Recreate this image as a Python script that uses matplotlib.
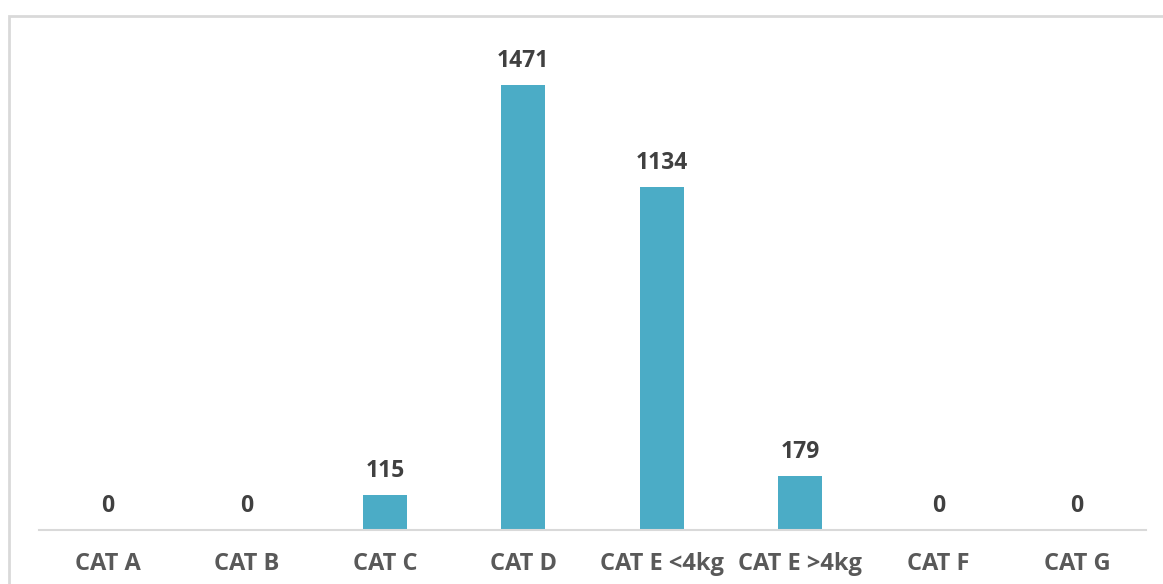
import matplotlib.pyplot as plt
from matplotlib.patches import Rectangle

categories = ['CAT A', 'CAT B', 'CAT C', 'CAT D', 'CAT E <4kg', 'CAT E >4kg', 'CAT F', 'CAT G']
counts = [0, 0, 115, 1471, 1134, 179, 0, 0]

plt.rcParams['font.family'] = ['Open Sans', 'DejaVu Sans']

W, H = 1163, 584
fig = plt.figure(figsize=(W / 100, H / 100), dpi=100)
ax = fig.add_axes([39 / W, (H - 530) / H, (1146 - 39) / W, 500 / H])

x = range(len(categories))
bars = ax.bar(x, counts, width=0.32, color='#4BACC6', zorder=2)
for b, v in zip(bars, counts):
    ax.annotate(str(v), (b.get_x() + b.get_width() / 2, v), xytext=(0, 8.5),
                textcoords='offset points', ha='center', va='bottom',
                fontsize=16.5, fontweight='bold', color='#404040')

ax.set_xlim(-0.5, len(categories) - 0.5)
ax.set_ylim(0, 1653)
ax.set_xticks(list(x))
ax.set_xticklabels(categories, fontsize=17, fontweight='bold', color='#595959')
ax.tick_params(axis='x', length=0, pad=16)
ax.set_yticks([])
for s in ['top', 'left', 'right']:
    ax.spines[s].set_visible(False)
ax.spines['bottom'].set_color('#D9D9D9')
ax.spines['bottom'].set_linewidth(1.5)

# chart frame
fig.patches.append(Rectangle((9 / W, -0.1), 1.2, (H - 16) / H + 0.1,
                             transform=fig.transFigure, fill=False,
                             edgecolor='#D9D9D9', linewidth=2))

fig.savefig('out.png', dpi=100, facecolor='white')
